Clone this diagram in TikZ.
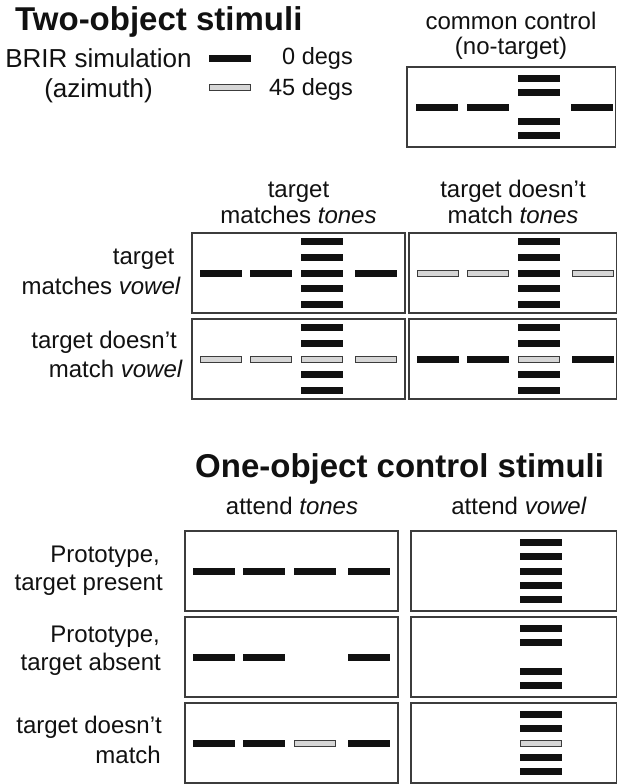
\documentclass[tikz,border=0pt]{standalone}
\usepackage{fontspec}
\setmainfont{Liberation Sans}
\definecolor{ink}{HTML}{111111}
\definecolor{edge}{HTML}{3C3C3C}
\definecolor{lgray}{HTML}{D6D6D6}
\tikzset{
  panel/.style={draw=edge, line width=1.2pt},
  bkbar/.style={fill=ink, draw=none, minimum width=42pt, minimum height=7pt, inner sep=0pt, outer sep=0pt},
  gybar/.style={fill=lgray, draw=edge, line width=1pt, minimum width=41pt, minimum height=6pt, inner sep=0pt, outer sep=0pt},
  txt/.style={inner sep=0pt, text=ink, font=\fontsize{24}{29}\selectfont},
  legtxt/.style={inner sep=0pt, text=ink, font=\fontsize{26}{31}\selectfont},
  degtxt/.style={inner sep=0pt, text=ink, font=\fontsize{23.5}{28}\selectfont},
  ttl/.style={inner sep=0pt, text=ink, font=\fontsize{33}{40}\selectfont\bfseries},
}
\begin{document}
\begin{tikzpicture}[x=1pt,y=-1pt]
\useasboundingbox (0,0) rectangle (618,784);
\fill[white] (0,0) rectangle (618,784);

% ---------- titles and legend ----------
\node[ttl, anchor=base west] (t1) at (15,31) {Two-object stimuli};
\node[legtxt, anchor=base] (lg1) at (98.5,67) {BRIR simulation};
\node[legtxt, anchor=base] (lg2) at (98.5,97) {(azimuth)};
\node[bkbar] (lgb) at (230,58.5) {};
\node[gybar] (lgg) at (230,87) {};
\node[degtxt, anchor=base east] (d0) at (353,65) {0 degs};
\node[degtxt, anchor=base east] (d45) at (353,95) {45 degs};

% ---------- common control ----------
\node[txt, anchor=base] (cc1) at (511,30) {common control};
\node[txt, anchor=base] (cc2) at (511,55) {(no-target)};
\draw[panel] (407,67) rectangle (615.5,147);
\node[bkbar] (cc-a) at (437,107) {};
\node[bkbar] (cc-b) at (487.5,107) {};
\node[bkbar] (cc-c1) at (538.5,78.5) {};
\node[bkbar] (cc-c2) at (538.5,92.75) {};
\node[bkbar] (cc-c4) at (538.5,121.25) {};
\node[bkbar] (cc-c5) at (538.5,135.5) {};
\node[bkbar] (cc-d) at (592,107) {};

% ---------- two-object grid ----------
\node[txt, anchor=base] (h1a) at (298.5,197) {target};
\node[txt, anchor=base] (h1b) at (298.5,223) {matches \textit{tones}};
\node[txt, anchor=base] (h2a) at (513,197) {target doesn’t};
\node[txt, anchor=base] (h2b) at (513,223) {match \textit{tones}};

\node[txt, anchor=base east] (r1a) at (174.5,264) {target};
\node[txt, anchor=base east] (r1b) at (181,294) {matches \textit{vowel}};
\node[txt, anchor=base east] (r2a) at (177,348) {target doesn’t};
\node[txt, anchor=base east] (r2b) at (183,377) {match \textit{vowel}};

\draw[panel] (192,233) rectangle (405,313);
\draw[panel] (409,233) rectangle (616.5,313);
\draw[panel] (192,319) rectangle (405,399);
\draw[panel] (409,319) rectangle (616.5,399);

% m11
\node[bkbar] (m11-a) at (220.5,273) {};
\node[bkbar] (m11-b) at (271,273) {};
\node[bkbar] (m11-d) at (375.5,273) {};
\foreach \k/\yy in {1/241.5,2/257.25,3/273,4/288.75,5/304.5}
  \node[bkbar] (m11-c\k) at (322,\yy) {};
% m12
\node[gybar] (m12-a) at (437.5,273) {};
\node[gybar] (m12-b) at (488,273) {};
\node[gybar] (m12-d) at (592.5,273) {};
\foreach \k/\yy in {1/241.5,2/257.25,3/273,4/288.75,5/304.5}
  \node[bkbar] (m12-c\k) at (539,\yy) {};
% m21
\node[gybar] (m21-a) at (220.5,359) {};
\node[gybar] (m21-b) at (271,359) {};
\node[gybar] (m21-d) at (375.5,359) {};
\foreach \k/\yy in {1/327.5,2/343.25,4/374.75,5/390.5}
  \node[bkbar] (m21-c\k) at (322,\yy) {};
\node[gybar] (m21-c3) at (322,359) {};
% m22
\node[bkbar] (m22-a) at (437.5,359) {};
\node[bkbar] (m22-b) at (488,359) {};
\node[bkbar] (m22-d) at (592.5,359) {};
\foreach \k/\yy in {1/327.5,2/343.25,4/374.75,5/390.5}
  \node[bkbar] (m22-c\k) at (539,\yy) {};
\node[gybar] (m22-c3) at (539,359) {};

% ---------- one-object controls ----------
\node[ttl, anchor=base west] (t2) at (195,477) {One-object control stimuli};
\node[txt, anchor=base] (a1) at (292,514) {attend \textit{tones}};
\node[txt, anchor=base] (a2) at (519,514) {attend \textit{vowel}};

\node[txt, anchor=base east] (p1a) at (160,562) {Prototype,};
\node[txt, anchor=base east] (p1b) at (163,590) {target present};
\node[txt, anchor=base east] (p2a) at (160,642) {Prototype,};
\node[txt, anchor=base east] (p2b) at (161,670) {target absent};
\node[txt, anchor=base east] (p3a) at (162,733) {target doesn’t};
\node[txt, anchor=base east] (p3b) at (161,763) {match};

\draw[panel] (185,531) rectangle (398,611);
\draw[panel] (411,531) rectangle (616.5,611);
\draw[panel] (185,617) rectangle (398,697);
\draw[panel] (411,617) rectangle (616.5,697);
\draw[panel] (185,703) rectangle (398,783);
\draw[panel] (411,703) rectangle (616.5,783);

% b1
\foreach \k/\xx in {a/213.5,b/264,c/315,d/368.5}
  \node[bkbar] (b1l-\k) at (\xx,571) {};
\foreach \k/\yy in {1/542.5,2/556.75,3/571,4/585.25,5/599.5}
  \node[bkbar] (b1r-\k) at (541,\yy) {};
% b2
\foreach \k/\xx in {a/213.5,b/264,d/368.5}
  \node[bkbar] (b2l-\k) at (\xx,657) {};
\foreach \k/\yy in {1/628.5,2/642.75,4/671.25,5/685.5}
  \node[bkbar] (b2r-\k) at (541,\yy) {};
% b3
\foreach \k/\xx in {a/213.5,b/264,d/368.5}
  \node[bkbar] (b3l-\k) at (\xx,743) {};
\node[gybar] (b3l-c) at (315,743) {};
\foreach \k/\yy in {1/714.5,2/728.75,4/757.25,5/771.5}
  \node[bkbar] (b3r-\k) at (541,\yy) {};
\node[gybar] (b3r-3) at (541,743) {};
\end{tikzpicture}
\end{document}
